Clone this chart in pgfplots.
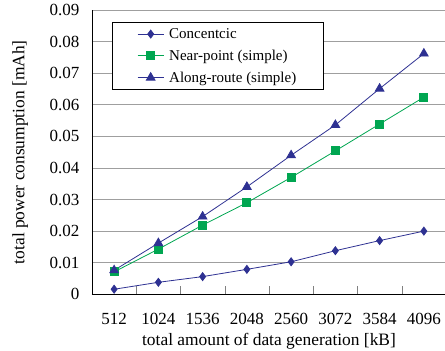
\documentclass[border=0pt]{standalone}
\usepackage{pgfplots}
\pgfplotsset{compat=1.18}
\usepackage{fontspec}
\setmainfont{Liberation Serif}
\definecolor{cblue}{HTML}{2E3192}
\definecolor{cgreen}{HTML}{00A651}
\begin{document}
\begin{tikzpicture}
\begin{axis}[
  scale only axis,
  width=354pt, height=284.3pt,
  xmin=-0.5, xmax=7.5,
  ymin=0, ymax=0.09,
  scaled y ticks=false,
  axis x line*=bottom, axis y line*=left,
  axis line style={black, line width=0.8pt},
  xtick={0,1,2,3,4,5,6,7},
  xticklabels={512,1024,1536,2048,2560,3072,3584,4096},
  minor xtick={0.5,1.5,2.5,3.5,4.5,5.5,6.5},
  major x tick style={draw=none},
  minor tick length=8pt,
  tick align=inside,
  ytick={0,0.01,0.02,0.03,0.04,0.05,0.06,0.07,0.08,0.09},
  yticklabels={0,0.01,0.02,0.03,0.04,0.05,0.06,0.07,0.08,0.09},
  major y tick style={draw=none},
  ymajorgrids,
  grid style={gray!75, line width=0.8pt},
  tick label style={font=\fontsize{17}{20}\selectfont},
  xticklabel style={yshift=-15pt},
  yticklabel style={xshift=-9pt},
  label style={font=\fontsize{17.4}{20}\selectfont},
  xlabel={total amount of data generation [kB]},
  ylabel={total power consumption [mAh]},
  xlabel style={at={(axis description cs:0.5,-0.166)}, anchor=center},
  ylabel style={at={(axis description cs:-0.203,0.5)}, anchor=center},
  legend style={at={(0.056,0.958)}, anchor=north west, draw=black, line width=0.8pt,
    font=\fontsize{15}{18}\selectfont, row sep=6pt, inner xsep=25pt, inner ysep=4pt,
    column sep=3pt, cells={anchor=west}},
  legend image code/.code={\draw[mark repeat=2,mark phase=2] plot coordinates {(0cm,0cm)(0.46cm,0cm)(0.92cm,0cm)};},
]
\addplot[cblue, line width=0.8pt, mark=diamond*, mark size=4pt, mark options={solid}] coordinates {
 (0,0.0016) (1,0.0038) (2,0.0056) (3,0.0079) (4,0.0103) (5,0.0138) (6,0.0170) (7,0.0200)};
\addlegendentry{Concentcic}
\addplot[cgreen, line width=0.8pt, mark=square*, mark size=4pt, mark options={solid}] coordinates {
 (0,0.0071) (1,0.0143) (2,0.0219) (3,0.0290) (4,0.0370) (5,0.0454) (6,0.0539) (7,0.0624)};
\addlegendentry{Near-point (simple)}
\addplot[cblue, line width=0.8pt, mark=triangle*, mark size=5pt, mark options={solid}] coordinates {
 (0,0.0076) (1,0.0162) (2,0.0246) (3,0.0340) (4,0.0440) (5,0.0536) (6,0.0651) (7,0.0762)};
\addlegendentry{Along-route (simple)}
\end{axis}
\pgfresetboundingbox
\path (current axis.south west) ++(-92pt,-56.7pt) rectangle ++(445pt,351pt);
\end{tikzpicture}
\end{document}
